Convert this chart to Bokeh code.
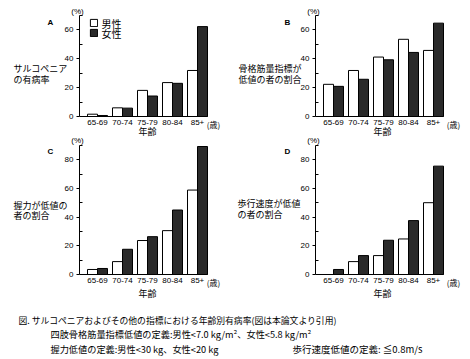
from bokeh.plotting import figure
from bokeh.models import (ColumnDataSource, FixedTicker, Label, Legend, LegendItem, Range1d,
                          LinearAxis)
from bokeh.layouts import column, row
from bokeh.transform import dodge
from bokeh.embed import file_html
from bokeh.resources import INLINE

age_groups = ["65-69", "70-74", "75-79", "80-84", "85+"]
sex_labels = ["男性", "女性"]
sarc_male = [1.6, 6.0, 18.1, 23.5, 31.9]
sarc_female = [0.7, 5.8, 14.2, 23.0, 62.3]
smi_male = [22.3, 31.9, 41.2, 53.5, 45.8]
smi_female = [20.9, 25.8, 39.3, 44.4, 64.7]
grip_male = [3.5, 9.0, 23.7, 30.6, 58.9]
grip_female = [4.2, 17.6, 26.4, 45.0, 89.3]
gait_male = [0.0, 9.0, 13.2, 24.8, 50.1]
gait_female = [3.5, 13.2, 23.9, 37.6, 75.6]

top_major = [0, 20, 40, 60]
top_minor = [10, 30, 50, 70]
bot_major = [0, 20, 40, 60, 80]
bot_minor = [10, 30, 50, 70, 90]

JP = "Noto Sans CJK JP"
LAT = "Liberation Sans"
X_LO, X_HI = -0.72, 4.4
PLOT_W = 128


def lab(p, ox, oy, fh, px, py, text, size="9px", font=JP, align="left", bold=False):
    # px, py: page coordinates; converted to screen units of the figure frame
    p.add_layout(Label(x=px - ox, y=(oy + fh) - py, x_units="screen", y_units="screen",
                       text=text, text_font=font, text_font_size=size, text_align=align,
                       text_baseline="middle", text_color="black",
                       text_font_style="bold" if bold else "normal"))


def panel(letter, ylines, male, female, ymax, ymaj, ymin, fw, fh, ox, oy, axis_px, base_py,
          plot_h, letter_xy, pct_xy, ylab_x, ylab_ys, yrs_xy, age_xy, legend=False):
    ux = (X_HI - X_LO) / PLOT_W
    xs = X_LO - (axis_px - ox) * ux
    uy = ymax / plot_h
    ys = -(oy + fh - base_py) * uy
    p = figure(width=fw, height=fh, x_range=Range1d(xs, xs + fw * ux),
               y_range=Range1d(ys, ys + fh * uy),
               output_backend="svg", toolbar_location=None, x_axis_type=None,
               y_axis_type=None, min_border=0)
    p.outline_line_color = None
    p.grid.visible = False
    src = ColumnDataSource(dict(x=list(range(len(age_groups))), m=male, f=female))
    r1 = p.vbar(x=dodge("x", -0.2), top="m", width=0.4, source=src,
                fill_color="white", line_color="black", line_width=1)
    r2 = p.vbar(x=dodge("x", 0.2), top="f", width=0.4, source=src,
                fill_color="#2a2a2a", line_color="black", line_width=1)
    xa = LinearAxis(fixed_location=0, bounds=(X_LO, X_HI),
                    ticker=FixedTicker(ticks=list(range(len(age_groups)))))
    xa.major_label_overrides = {i: g for i, g in enumerate(age_groups)}
    xa.major_tick_in = 0
    xa.major_tick_out = 0
    xa.major_label_standoff = 3
    xa.major_label_text_font = LAT
    xa.major_label_text_font_size = "8px"
    xa.major_label_text_color = "black"
    xa.axis_line_color = "black"
    p.add_layout(xa, "below")
    ya = LinearAxis(fixed_location=X_LO, bounds=(0, ymax),
                    ticker=FixedTicker(ticks=ymaj, minor_ticks=ymin))
    ya.major_tick_in = 0
    ya.major_tick_out = 3
    ya.minor_tick_in = 3
    ya.minor_tick_out = 0
    ya.major_label_standoff = 3
    ya.major_label_text_font = LAT
    ya.major_label_text_font_size = "8px"
    ya.major_label_text_color = "black"
    ya.axis_line_color = "black"
    p.add_layout(ya, "left")
    L = lambda px, py, t, **kw: lab(p, ox, oy, fh, px, py, t, **kw)
    L(letter_xy[0], letter_xy[1], letter, size="8px", font=LAT, align="center", bold=True)
    L(pct_xy[0], pct_xy[1], "(%)", size="8px", font=LAT, align="center")
    for t, yy in zip(ylines, ylab_ys):
        L(ylab_x, yy, t, size="9px")
    L(yrs_xy[0], yrs_xy[1], "(歳)", size="8px", align="center")
    L(age_xy[0], age_xy[1], "年齢", size="9px", align="center")
    if legend:
        # swatches from the legend (glyph only); texts as labels beside them
        lg = Legend(items=[LegendItem(label=" ", renderers=[r1]),
                           LegendItem(label=" ", renderers=[r2])],
                    location=(89 - ox, (oy + fh) - 37), glyph_width=9, glyph_height=9,
                    label_height=9, label_width=1, spacing=1, padding=0, margin=0,
                    border_line_alpha=0, background_fill_alpha=0,
                    label_text_font_size="1px", label_standoff=0)
        p.add_layout(lg)
        L(101, 22.5, sex_labels[0], size="10px")
        L(101, 32.5, sex_labels[1], size="10px")
    return p


pA = panel("A", ["サルコペニア", "の有病率"], sarc_male, sarc_female, 70, top_major, top_minor,
           235, 137, 0, 0, 79, 116, 101, (50, 22), (77, 11), 13, [68, 79], (213, 124),
           (147, 131), legend=True)
pB = panel("B", ["骨格筋量指標が", "低値の者の割合"], smi_male, smi_female, 70, top_major,
           top_minor, 235, 137, 235, 0, 315, 116, 101, (287, 22), (313, 11), 238, [68, 79],
           (453, 124), (382, 131))
pC = panel("C", ["握力が低値の", "者の割合"], grip_male, grip_female, 90, bot_major, bot_minor,
           235, 163, 0, 137, 79, 274, 129, (50, 151), (77, 140), 13, [205, 215], (213, 282),
           (147, 293))
pD = panel("D", ["歩行速度が低値", "の者の割合"], gait_male, gait_female, 90, bot_major,
           bot_minor, 235, 163, 235, 137, 315, 274, 129, (287, 151), (313, 140), 237,
           [203, 214], (453, 282), (382, 293))

CAP_H = 59
cap = figure(width=470, height=CAP_H, x_range=Range1d(0, 1), y_range=Range1d(0, 1),
             output_backend="svg", toolbar_location=None, x_axis_type=None, y_axis_type=None,
             min_border=0)
cap.outline_line_color = None
cap.grid.visible = False
C = lambda px, py, t, s: lab(cap, 0, 300, CAP_H, px, py, t, size=s)
C(18, 320, "図. サルコペニアおよびその他の指標における年齢別有病率(図は本論文より引用)", "8.8px")
C(50, 333, "四肢骨格筋量指標低値の定義:男性<7.0 kg/m²、女性<5.8 kg/m²", "9.2px")
C(50, 348, "握力低値の定義:男性<30 kg、女性<20 kg", "9.2px")
C(292, 348, "歩行速度低値の定義: ≦0.8m/s", "9.5px")

layout = column(row(pA, pB), row(pC, pD), cap)
open("out.html", "w").write(file_html(layout, INLINE))
